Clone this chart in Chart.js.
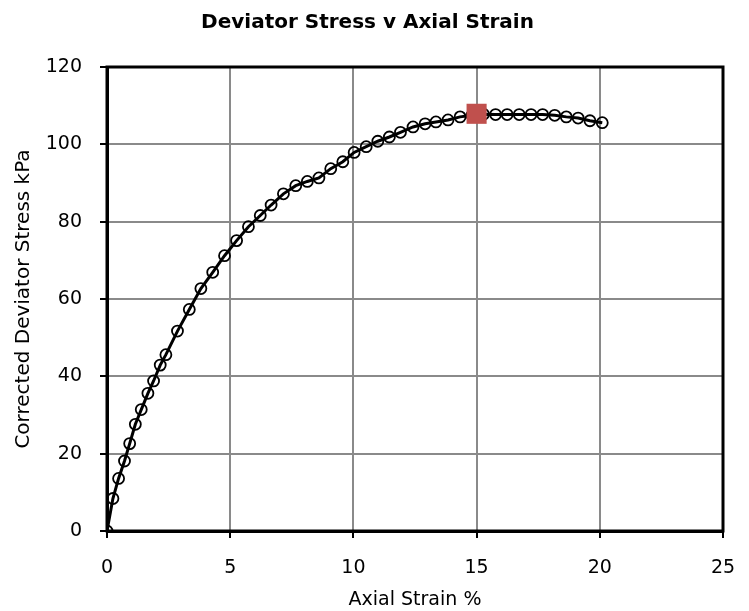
<!DOCTYPE html>
<html lang="en">
<head>
  <meta charset="UTF-8">
  <title>Deviator Stress v Axial Strain</title>
  <style>
    html, body { margin: 0; padding: 0; background: #fff; }
    #chart { display: block; }
  </style>
</head>
<body>
  <canvas id="chart" width="749" height="611"></canvas>
  <script src="https://cdn.jsdelivr.net/npm/chart.js"></script>
  <script>
    // values
    const strain = [0, 0.24, 0.47, 0.71, 0.92, 1.15, 1.39, 1.66, 1.89, 2.16,
      2.39, 2.86, 3.34, 3.81, 4.29, 4.77, 5.26, 5.74, 6.22, 6.66,
      7.16, 7.66, 8.13, 8.60, 9.08, 9.57, 10.03, 10.52, 10.99, 11.46,
      11.91, 12.42, 12.91, 13.35, 13.84, 14.33, 14.81, 15.28, 15.77, 16.24,
      16.73, 17.21, 17.68, 18.17, 18.64, 19.12, 19.60, 20.10];
    const stress = [0, 8.4, 13.6, 18.1, 22.6, 27.6, 31.4, 35.6, 38.8, 42.9,
      45.6, 51.7, 57.3, 62.7, 66.9, 71.2, 75.1, 78.7, 81.6, 84.3,
      87.2, 89.3, 90.4, 91.3, 93.7, 95.5, 97.9, 99.4, 100.8, 101.9,
      103.1, 104.5, 105.3, 105.8, 106.3, 107.1, 107.5, 107.8, 107.7, 107.7,
      107.7, 107.7, 107.7, 107.5, 107.1, 106.8, 106.1, 105.6];
    const peakStrain = [15.0];
    const peakStress = [107.9];
    const xTicks = [0, 5, 10, 15, 20, 25];
    const yTicks = [0, 20, 40, 60, 80, 100, 120];

    const font = 'DejaVu Sans';

    // black frame round the plot area
    const frame = {
      id: 'frame',
      afterDatasetsDraw(chart) {
        const a = chart.chartArea;
        const c = chart.ctx;
        c.save();
        c.strokeStyle = '#000';
        c.lineWidth = 3;
        c.strokeRect(a.left, a.top, a.right - a.left, a.bottom - a.top);
        c.restore();
      }
    };

    new Chart(document.getElementById('chart'), {
      type: 'scatter',
      data: {
        datasets: [{
          label: 'Peak',
          data: peakStrain.map((x, i) => ({ x: x, y: peakStress[i] })),
          pointStyle: 'rect',
          pointRadius: 14.2,
          pointBackgroundColor: '#C0504D',
          pointBorderColor: '#C0504D',
          pointBorderWidth: 0,
          showLine: false,
          order: 0
        }, {
          label: 'Stress',
          data: strain.map((x, i) => ({ x: x, y: stress[i] })),
          showLine: true,
          borderColor: '#000',
          borderWidth: 3,
          tension: 0,
          pointRadius: 5.5,
          pointBorderWidth: 1.8,
          pointBorderColor: '#000',
          pointBackgroundColor: 'rgba(0,0,0,0)',
          order: 1
        }]
      },
      options: {
        responsive: false,
        animation: false,
        layout: { padding: { left: 12, right: 26, top: 0, bottom: 0 } },
        plugins: {
          legend: { display: false },
          tooltip: { enabled: false },
          title: {
            display: true,
            text: 'Deviator Stress v Axial Strain',
            color: '#000',
            font: { family: font, size: 20, weight: 'bold' },
            padding: { top: 11, bottom: 32 }
          }
        },
        scales: {
          x: {
            type: 'linear',
            min: 0,
            max: 25,
            afterBuildTicks: s => { s.ticks = xTicks.map(v => ({ value: v })); },
            afterFit: s => { s.height = 80; },
            // small padding + tall line keeps the right edge free of extra auto padding
            ticks: { color: '#000', padding: 13, font: { family: font, size: 19, lineHeight: 1.83 } },
            grid: { color: '#8a8a8a', lineWidth: 2, tickColor: '#000', tickWidth: 2, tickLength: 7 },
            border: { color: '#000', width: 3 },
            title: {
              display: true,
              text: 'Axial Strain %',
              color: '#000',
              font: { family: font, size: 19 },
              padding: { top: 0, bottom: 0 }
            }
          },
          y: {
            type: 'linear',
            min: 0,
            max: 120,
            afterBuildTicks: s => { s.ticks = yTicks.map(v => ({ value: v })); },
            afterFit: s => { s.width = 95; },
            ticks: { color: '#000', padding: 18, font: { family: font, size: 19 } },
            grid: { color: '#8a8a8a', lineWidth: 2, tickColor: '#000', tickWidth: 2, tickLength: 7 },
            border: { color: '#000', width: 3 },
            title: {
              display: true,
              text: 'Corrected Deviator Stress kPa',
              color: '#000',
              font: { family: font, size: 20 },
              padding: { top: 0, bottom: 0 }
            }
          }
        }
      },
      plugins: [frame]
    });
  </script>
</body>
</html>
